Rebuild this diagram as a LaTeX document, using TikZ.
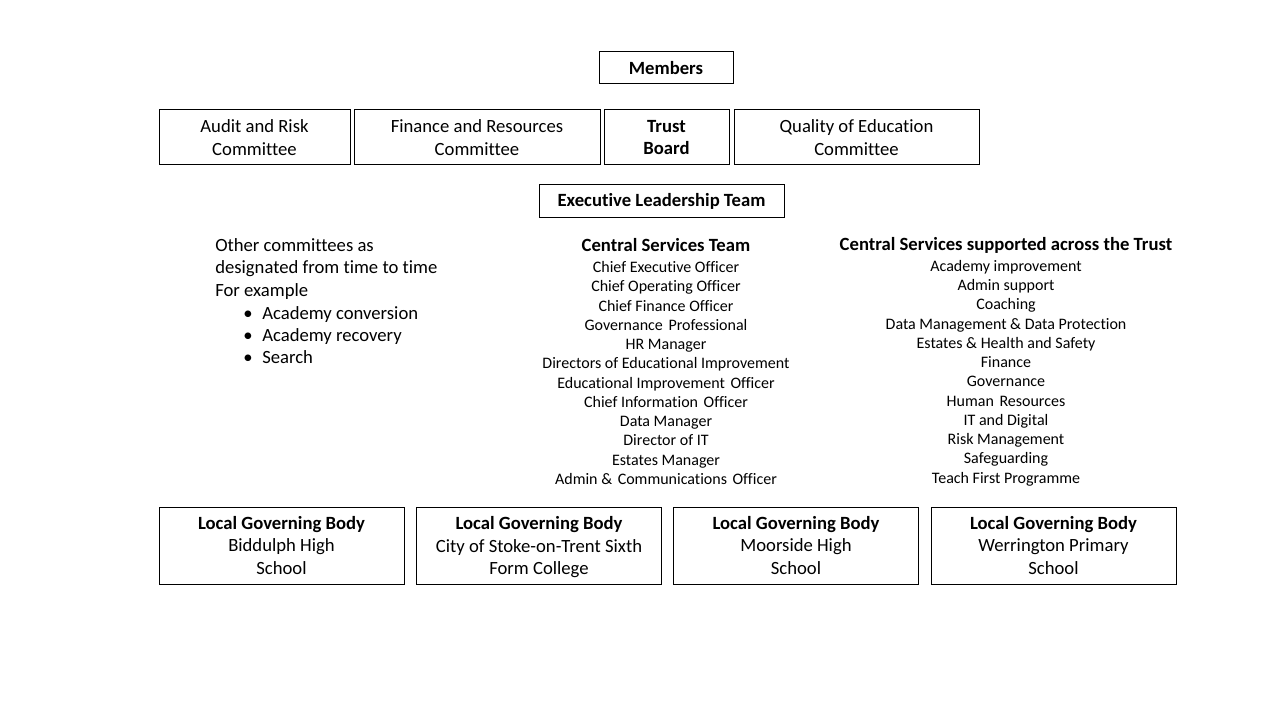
\documentclass[tikz,border=0pt]{standalone}
\usepackage{fontspec}
\setmainfont{Carlito}[Ligatures=NoCommon]
\newcommand{\dsp}{\ \hspace{1.5pt}}
\begin{document}
\begin{tikzpicture}[x=0.75pt,y=-0.75pt,
  box/.style={draw=black,line width=0.75pt,inner sep=0pt,align=center,font=\fontsize{14pt}{17.1pt}\selectfont},
  big/.style={inner sep=0pt,font=\fontsize{14pt}{17pt}\selectfont},
  small/.style={inner sep=0pt,align=center,font=\fontsize{12pt}{14.45pt}\selectfont},
  lgb/.style={box,minimum width=183.75pt,minimum height=57.75pt,font=\fontsize{14pt}{16.9pt}\selectfont}]
\useasboundingbox[fill=white] (0,0) rectangle (1280,720);
\node[box,minimum width=100.5pt,minimum height=24pt] (members) at (666,68) {\bfseries Members};
\node[box,minimum width=143.25pt,minimum height=41.25pt] (audit) at (254.5,137.5) {Audit and Risk\\Committee};
\node[box,minimum width=184.5pt,minimum height=41.25pt] (finance) at (477,137.5) {Finance and Resources\\Committee};
\node[box,minimum width=93.75pt,minimum height=41.25pt] (trust) at (666.5,137.5) {\bfseries Trust\\\bfseries Board};
\node[box,minimum width=183.75pt,minimum height=41.25pt] (quality) at (856.5,137.5) {Quality of Education\\Committee};
\node[box,minimum width=183.75pt,minimum height=24.75pt] (elt) at (661.5,201.5) {\bfseries Executive Leadership Team};
\node[big,align=left,anchor=west] (other) at (215,269) {Other committees as\\designated from time to time\\For example};
\node[big,align=left,anchor=west,font=\fontsize{14pt}{16.5pt}\selectfont] (bullets) at (243,335.5) {\makebox[14.25pt][l]{•}Academy conversion\\\makebox[14.25pt][l]{•}Academy recovery\\\makebox[14.25pt][l]{•}Search};
\node[big,font=\fontsize{14pt}{17pt}\selectfont\bfseries] (cst) at (666,245.5) {Central Services Team};
\node[small] (cstlist) at (666,373) {Chief Executive Officer\\Chief Operating Officer\\Chief Finance Officer\\Governance\dsp Professional\\HR Manager\\Directors of Educational Improvement\\Educational Improvement\dsp Officer\\Chief Information\dsp Officer\\Data Manager\\Director of IT\\Estates Manager\\Admin \&\dsp Communications\dsp Officer};
\node[big,font=\fontsize{14pt}{17pt}\selectfont\bfseries] (csa) at (1006,245.5) {Central Services supported across the Trust};
\node[small] (csalist) at (1006,373) {Academy improvement\\Admin support\\Coaching\\Data Management \& Data Protection\\Estates \& Health and Safety\\Finance\\Governance\\Human\dsp Resources\\IT and Digital\\Risk Management\\Safeguarding\\Teach First Programme};
\node[lgb] (lgb1) at (281.5,545.5) {\bfseries Local Governing Body\\Biddulph High\\School};
\node[lgb] (lgb2) at (539,545.5) {\bfseries Local Governing Body\\City of Stoke-on-Trent Sixth\\\smash{Form College}};
\node[lgb] (lgb3) at (796,545.5) {\bfseries Local Governing Body\\Moorside High\\School};
\node[lgb] (lgb4) at (1053.5,545.5) {\bfseries Local Governing Body\\Werrington Primary\\School};
\end{tikzpicture}
\end{document}
